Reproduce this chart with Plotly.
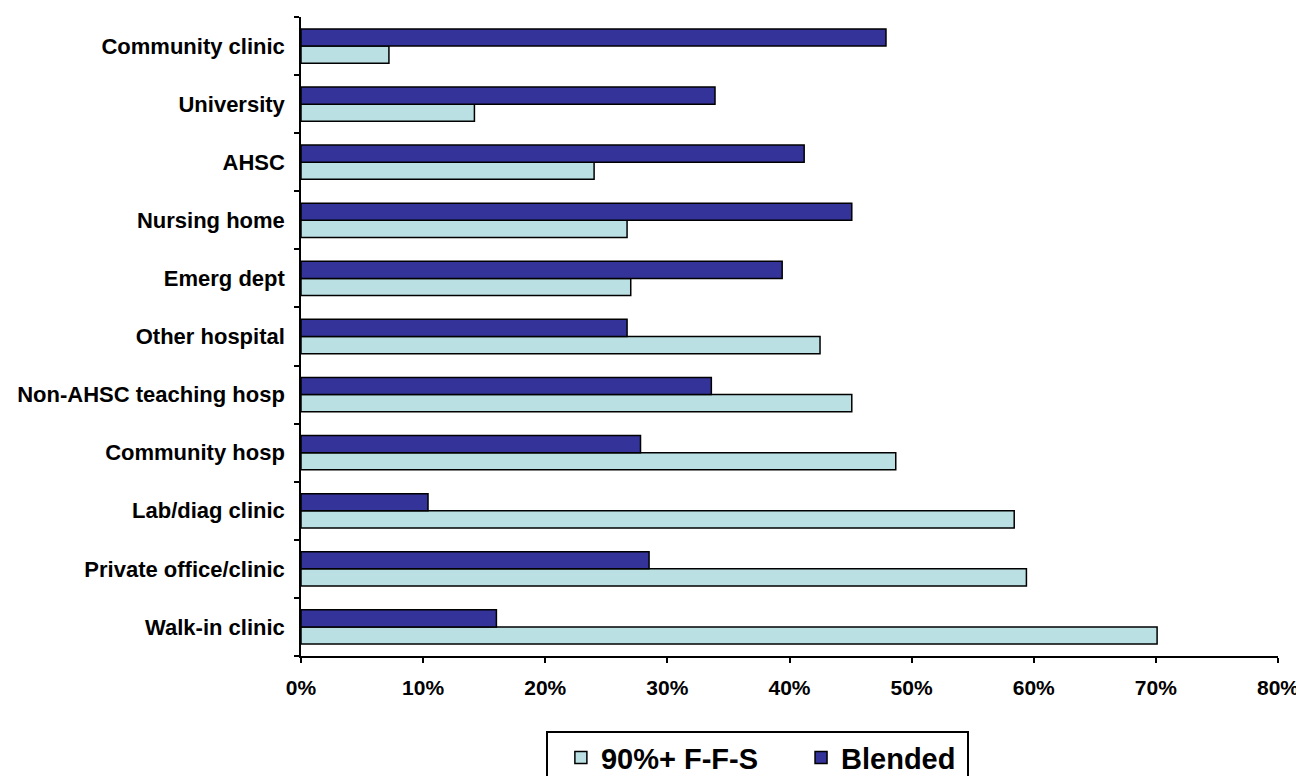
import plotly.graph_objects as go

categories = ["Walk-in clinic", "Private office/clinic", "Lab/diag clinic", "Community hosp",
              "Non-AHSC teaching hosp", "Other hospital", "Emerg dept", "Nursing home",
              "AHSC", "University", "Community clinic"]
ffs_values = [70.1, 59.4, 58.4, 48.7, 45.1, 42.5, 27.0, 26.7, 24.0, 14.2, 7.2]
blended_values = [16.0, 28.5, 10.4, 27.8, 33.6, 26.7, 39.4, 45.1, 41.2, 33.9, 47.9]
x_ticks = [0, 10, 20, 30, 40, 50, 60, 70, 80]
series_names = ["90%+ F-F-S", "Blended"]

FONT = "Liberation Sans, Arial, sans-serif"
PAD = "\u00a0\u00a0\u00a0\u00a0\u2009"

fig = go.Figure()
fig.add_trace(go.Bar(
    y=categories, x=ffs_values, orientation="h", name=series_names[0] + PAD,
    marker=dict(color="#bbe0e3", line=dict(color="#000000", width=1.5)),
))
fig.add_trace(go.Bar(
    y=categories, x=blended_values, orientation="h", name=series_names[1],
    marker=dict(color="#333399", line=dict(color="#000000", width=1.5)),
))

fig.update_layout(
    width=1296, height=768,
    margin=dict(l=293, r=26, t=9, b=120, autoexpand=False),
    barmode="group", bargap=0.41, bargroupgap=0,
    plot_bgcolor="white", paper_bgcolor="white",
    font=dict(family=FONT, color="#000000"),
    legend=dict(
        orientation="h", x=0.266, xanchor="left", y=-0.119, yanchor="top",
        font=dict(family=FONT, size=29, weight="bold", color="#000000"),
        borderwidth=0, bgcolor="rgba(0,0,0,0)",
        traceorder="normal",
    ),
    showlegend=True,
)
# legend frame (page 547..968 x, 732..bottom y), expressed in paper coords
fig.add_shape(
    type="rect", xref="paper", yref="paper",
    x0=(547 - 301) / 977, x1=(968 - 301) / 977,
    y0=(656 - 790) / 639, y1=(656 - 732) / 639,
    line=dict(color="#000000", width=2), fillcolor="rgba(0,0,0,0)", layer="below",
)
fig.update_xaxes(
    range=[0, 80], tickvals=x_ticks, ticktext=[f"{v}%" for v in x_ticks],
    showgrid=False, zeroline=False, showline=True, linecolor="#000000", linewidth=1.5,
    ticks="outside", ticklen=5, tickwidth=1.5, tickcolor="#000000",
    tickfont=dict(family=FONT, size=21, weight="bold", color="#000000"),
    ticklabelstandoff=7, automargin=False, ticklabeloverflow="allow",
)
fig.update_yaxes(
    categoryorder="array", categoryarray=categories,
    showgrid=False, zeroline=False, showline=True, linecolor="#000000", linewidth=1.5,
    ticks="outside", ticklen=5, tickwidth=1.5, tickcolor="#000000", tickson="boundaries",
    tickfont=dict(family=FONT, size=22, weight="bold", color="#000000"),
    ticklabelstandoff=10, automargin=False,
)

fig.write_html("out.html")
